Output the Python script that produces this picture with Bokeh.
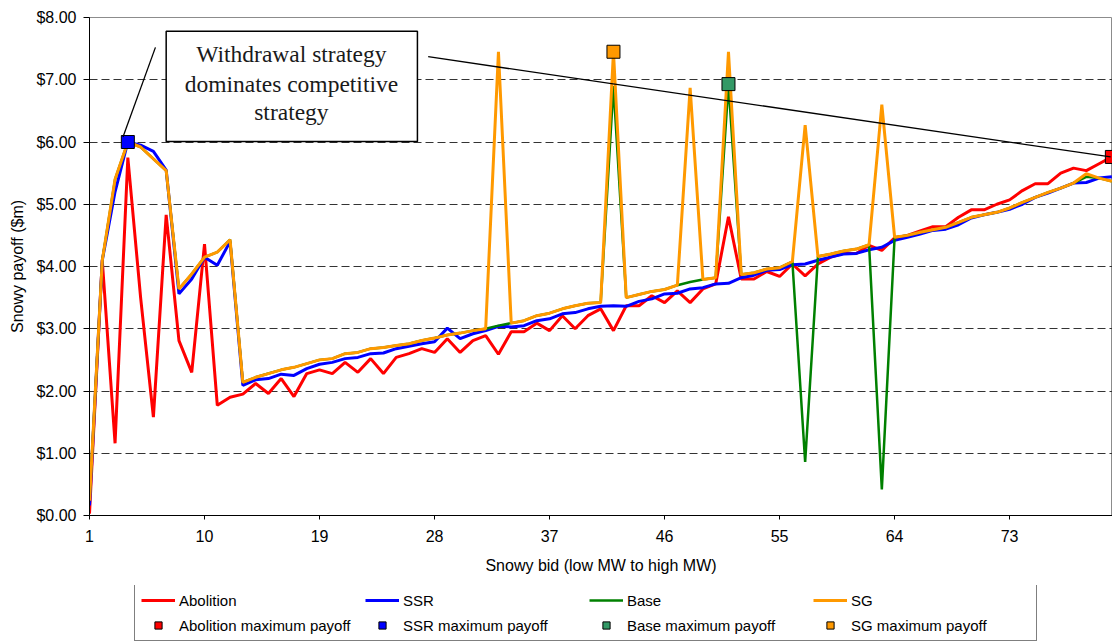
from bokeh.plotting import figure
from bokeh.layouts import column
from bokeh.models import (Range1d, FixedTicker, NumeralTickFormatter, Legend, LegendItem,
                          BoxAnnotation, Label, Arrow)
from bokeh.embed import file_html
from bokeh.resources import INLINE

# Snowy bid steps (low MW to high MW)
bids = list(range(1, 82))

# Snowy payoff ($m) per bid
abolition = [0.03, 4.10, 1.16, 5.75, 3.50, 1.58, 4.83, 2.81, 2.30, 4.36,
             1.77, 1.90, 1.95, 2.12, 1.96, 2.20, 1.91, 2.28, 2.34, 2.28,
             2.46, 2.30, 2.52, 2.28, 2.54, 2.60, 2.68, 2.62, 2.84, 2.62,
             2.81, 2.89, 2.59, 2.95, 2.95, 3.09, 2.97, 3.21, 3.00, 3.21,
             3.32, 2.97, 3.37, 3.37, 3.53, 3.42, 3.61, 3.42, 3.64, 3.72,
             4.80, 3.80, 3.80, 3.92, 3.84, 4.04, 3.85, 4.04, 4.15, 4.21,
             4.21, 4.34, 4.26, 4.46, 4.50, 4.57, 4.64, 4.64, 4.79, 4.91,
             4.91, 5.00, 5.07, 5.22, 5.33, 5.33, 5.50, 5.58, 5.54, 5.65,
             5.76]
ssr = [0.16, 4.10, 5.20, 6.00, 5.95, 5.85, 5.55, 3.56, 3.80, 4.15,
       4.02, 4.40, 2.09, 2.18, 2.20, 2.27, 2.25, 2.36, 2.43, 2.46,
       2.52, 2.54, 2.60, 2.61, 2.68, 2.72, 2.76, 2.79, 3.01, 2.84,
       2.92, 2.97, 3.04, 3.03, 3.05, 3.13, 3.16, 3.24, 3.26, 3.32,
       3.36, 3.37, 3.36, 3.44, 3.48, 3.56, 3.57, 3.64, 3.66, 3.72,
       3.73, 3.82, 3.86, 3.94, 3.95, 4.03, 4.04, 4.10, 4.15, 4.20,
       4.21, 4.27, 4.31, 4.42, 4.47, 4.52, 4.58, 4.60, 4.67, 4.78,
       4.83, 4.87, 4.92, 5.00, 5.11, 5.18, 5.26, 5.34, 5.35, 5.42,
       5.44]
base = [0.24, 4.10, 5.40, 6.00, 5.92, 5.73, 5.54, 3.64, 3.88, 4.15,
        4.23, 4.43, 2.14, 2.22, 2.28, 2.34, 2.38, 2.44, 2.50, 2.52,
        2.60, 2.62, 2.68, 2.70, 2.73, 2.76, 2.81, 2.85, 2.90, 2.93,
        2.97, 3.00, 3.05, 3.09, 3.13, 3.21, 3.25, 3.32, 3.37, 3.41,
        3.42, 6.90, 3.50, 3.55, 3.60, 3.63, 3.70, 3.75, 3.79, 3.82,
        6.93, 3.87, 3.90, 3.96, 3.98, 4.08, 0.86, 4.16, 4.20, 4.25,
        4.28, 4.35, 0.42, 4.47, 4.50, 4.55, 4.59, 4.63, 4.71, 4.79,
        4.83, 4.87, 4.94, 5.03, 5.11, 5.19, 5.26, 5.34, 5.44, 5.42,
        5.37]
sg = [0.24, 4.10, 5.40, 6.00, 5.92, 5.73, 5.54, 3.64, 3.88, 4.15,
      4.23, 4.43, 2.14, 2.22, 2.28, 2.34, 2.38, 2.44, 2.50, 2.52,
      2.60, 2.62, 2.68, 2.70, 2.73, 2.76, 2.81, 2.85, 2.90, 2.93,
      2.97, 3.00, 7.45, 3.09, 3.13, 3.21, 3.25, 3.32, 3.37, 3.41,
      3.42, 7.45, 3.50, 3.55, 3.60, 3.63, 3.70, 6.87, 3.79, 3.82,
      7.45, 3.87, 3.90, 3.96, 3.98, 4.08, 6.27, 4.16, 4.20, 4.25,
      4.28, 4.35, 6.60, 4.47, 4.50, 4.55, 4.59, 4.63, 4.71, 4.79,
      4.83, 4.87, 4.94, 5.03, 5.11, 5.19, 5.26, 5.34, 5.49, 5.42,
      5.37]

# maximum payoff points
abolition_max_bid, abolition_max_payoff = [81], [5.76]
ssr_max_bid, ssr_max_payoff = [4], [6.00]
base_max_bid, base_max_payoff = [51], [6.93]
sg_max_bid, sg_max_payoff = [42], [7.45]

x_ticks = [1, 10, 19, 28, 37, 46, 55, 64, 73]
y_ticks = [0, 1, 2, 3, 4, 5, 6, 7, 8]

# callout box and its two pointer lines (data units)
note_lines = ["Withdrawal strategy", "dominates competitive", "strategy"]
note_box = dict(left=7.0, right=26.66, top=7.78, bottom=6.01)
note_text_x = 16.8
note_text_y = [7.41, 6.93, 6.48]
pointer_1 = (6.16, 7.52, 3.62, 6.08)
pointer_2 = (27.5, 7.37, 80.9, 5.76)

FONT = "Liberation Sans"

series = [
    ("Abolition", abolition, "#ff0000", 3),
    ("SSR", ssr, "#0000ff", 3),
    ("Base", base, "#008000", 2.5),
    ("SG", sg, "#ff9900", 3),
]
max_points = [
    ("Abolition maximum payoff", abolition_max_bid, abolition_max_payoff, "#ff0000"),
    ("SSR maximum payoff", ssr_max_bid, ssr_max_payoff, "#0000ff"),
    ("Base maximum payoff", base_max_bid, base_max_payoff, "#339966"),
    ("SG maximum payoff", sg_max_bid, sg_max_payoff, "#ff9900"),
]


def draw_series(fig):
    lines, marks = [], []
    for name, vals, color, lw in series:
        lines.append(fig.line(bids, vals, color=color, line_width=lw))
    for name, bx, by, color in max_points:
        marks.append(fig.scatter(bx, by, marker="square", size=13,
                                 fill_color=color, line_color="black"))
    return lines, marks


p = figure(width=1112, height=585,
           x_range=Range1d(1, 81.05), y_range=Range1d(0, 8),
           output_backend="svg", toolbar_location=None,
           min_border_left=89, min_border_top=17, min_border_right=0,
           min_border_bottom=70)

p.background_fill_color = "white"
p.border_fill_color = "white"
p.outline_line_color = "#8c8c8c"

draw_series(p)

# axes
p.xaxis.ticker = FixedTicker(ticks=x_ticks)
p.yaxis.ticker = FixedTicker(ticks=y_ticks)
p.yaxis.formatter = NumeralTickFormatter(format="$0.00")
p.xaxis.axis_label = "Snowy bid (low MW to high MW)"
p.yaxis.axis_label = "Snowy payoff ($m)"
for ax in (p.xaxis, p.yaxis):
    ax.axis_line_color = "black"
    ax.major_tick_line_color = "black"
    ax.minor_tick_line_color = None
    ax.major_tick_in = 0
    ax.major_label_text_font = FONT
    ax.major_label_text_font_size = "16px"
    ax.major_label_text_color = "black"
    ax.axis_label_text_font = FONT
    ax.axis_label_text_font_size = "16px"
    ax.axis_label_text_font_style = "normal"
    ax.axis_label_text_color = "black"
p.xaxis.major_tick_out = 4
p.xaxis.major_label_standoff = 10
p.xaxis.axis_label_standoff = 12
p.yaxis.major_tick_out = 6
p.yaxis.major_label_standoff = 7
p.yaxis.axis_label_standoff = 7

p.xgrid.grid_line_color = None
p.ygrid.grid_line_color = "#333333"
p.ygrid.grid_line_dash = "8 4"
p.ygrid.grid_line_width = 1

# callout
box = BoxAnnotation(fill_color="white", fill_alpha=1.0, line_color="black",
                    line_alpha=1.0, line_width=1.5, **note_box)
p.add_layout(box)
for x0, y0, x1, y1 in (pointer_1, pointer_2):
    p.add_layout(Arrow(end=None, x_start=x0, y_start=y0, x_end=x1, y_end=y1,
                       line_color="black", line_width=1.3))
for txt, ty in zip(note_lines, note_text_y):
    p.add_layout(Label(x=note_text_x, y=ty, text=txt, text_align="center",
                       text_baseline="alphabetic", text_font="Liberation Serif",
                       text_font_size="23.5px", text_color="#1a1a1a"))

# legend strip under the chart (its own series copies sit outside the view)
leg = figure(width=1112, height=56, x_range=Range1d(-20, -10), y_range=Range1d(-20, -10),
             output_backend="svg", toolbar_location=None,
             x_axis_location=None, y_axis_location=None,
             min_border_left=0, min_border_right=0, min_border_top=0, min_border_bottom=0)
leg.grid.visible = False
leg.outline_line_color = None
leg.background_fill_color = "white"
leg.border_fill_color = "white"
leg_lines, leg_marks = draw_series(leg)

items = [LegendItem(label=s[0], renderers=[r]) for s, r in zip(series, leg_lines)]
items += [LegendItem(label=m[0], renderers=[r]) for m, r in zip(max_points, leg_marks)]
# column() lines this frame up with the chart frame, so x is measured from the y axis
legend = Legend(items=items, orientation="horizontal", ncols=4, location=(45, 0))
legend.label_text_font = FONT
legend.label_text_font_size = "15px"
legend.label_text_color = "black"
legend.glyph_width = 34
legend.glyph_height = 18
legend.label_height = 18
legend.label_width = 179
legend.label_standoff = 4
legend.spacing = 7
legend.padding = 6
legend.margin = 0
legend.border_line_color = "black"
legend.border_line_width = 1
legend.background_fill_alpha = 1.0
leg.add_layout(legend)

layout = column(p, leg, spacing=0)
open("out.html", "w").write(file_html(layout, INLINE))
